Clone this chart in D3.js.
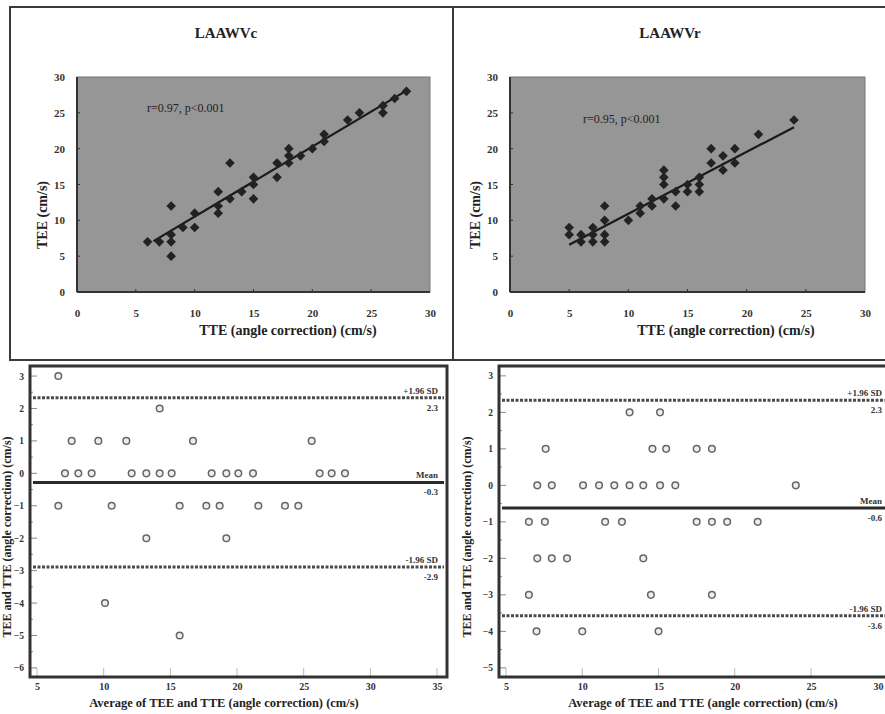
<!DOCTYPE html>
<html><head><meta charset="utf-8">
<script src="https://cdn.jsdelivr.net/npm/d3@7"></script>
<style>
body{margin:0;background:#fff;}
text{font-family:"Liberation Serif","DejaVu Serif",serif;}
</style></head>
<body>
<svg id="c" width="885" height="714"></svg>
<script>
// ---------- DATA ----------
// Top-left scatter: LAAWVc  [TTE, TEE]
const scatterC_x = [6,7,8,8,8,8,9,10,10,12,12,12,13,13,14,15,15,15,17,17,18,18,18,19,20,21,21,23,24,26,26,27,28];
const scatterC_y = [7,7,12,8,7,5,9,11,9,12,14,11,18,13,14,16,15,13,18,16,20,19,18,19,20,21,22,24,25,25,26,27,28];
const fitC = [[6.5,7.1],[28,28.1]];
const titleC = "LAAWVc";
const annC = "r=0.97, p<0.001";

// Top-right scatter: LAAWVr
const scatterR_x = [5,5,6,6,7,7,7,8,8,8,8,10,11,11,12,12,13,13,13,13,14,14,15,15,16,16,16,17,17,18,18,19,19,21,24];
const scatterR_y = [9,8,8,7,9,8,7,12,10,8,7,10,11,12,12,13,13,15,16,17,14,12,14,15,16,15,14,20,18,19,17,20,18,22,24];
const fitR = [[5,6.6],[24,23]];
const titleR = "LAAWVr";
const annR = "r=0.95, p<0.001";

const topTicks = [0,5,10,15,20,25,30];
const topXTitle = "TTE (angle correction) (cm/s)";
const topYTitle = "TEE (cm/s)";

// Bottom-left Bland-Altman (LAAWVc)
const baC_x = [6.6,14.2,7.6,9.6,11.7,16.7,25.6,7.1,8.1,9.1,12.1,13.2,14.2,15.1,18.1,19.2,20.1,21.2,26.2,27.1,28.1,6.6,10.6,15.7,17.7,18.7,21.6,23.6,24.6,13.2,19.2,10.1,15.7];
const baC_y = [3,2,1,1,1,1,1,0,0,0,0,0,0,0,0,0,0,0,0,0,0,-1,-1,-1,-1,-1,-1,-1,-1,-2,-2,-4,-5];
const baC_lines = [2.33,-0.28,-2.89];
const baC_top = ["+1.96 SD","Mean","-1.96 SD"];
const baC_vals = ["2.3","-0.3","-2.9"];
const baC_xTicks = [5,10,15,20,25,30,35];
const baC_yTicks = [3,2,1,0,-1,-2,-3,-4,-5,-6];

// Bottom-right Bland-Altman (LAAWVr)
const baR_x = [13.1,15.1,7.6,14.6,15.5,17.5,18.5,7.05,8.0,10.05,11.1,12.1,13.1,14.0,15.1,16.1,24.0,6.5,7.55,11.5,12.6,17.5,18.5,19.5,21.5,7.05,8.0,9.0,14.0,6.5,14.5,18.5,7.0,10.0,15.0];
const baR_y = [2,2,1,1,1,1,1,0,0,0,0,0,0,0,0,0,0,-1,-1,-1,-1,-1,-1,-1,-1,-2,-2,-2,-2,-3,-3,-3,-4,-4,-4];
const baR_lines = [2.33,-0.62,-3.57];
const baR_top = ["+1.96 SD","Mean","-1.96 SD"];
const baR_vals = ["2.3","-0.6","-3.6"];
const baR_xTicks = [5,10,15,20,25,30];
const baR_yTicks = [3,2,1,0,-1,-2,-3,-4,-5];

const botXTitle = "Average of TEE and TTE (angle correction) (cm/s)";
const botYTitleC = "TEE and TTE (angle correction) (cm/s)";
const botYTitleR = "TEE and TTE  (angle correction) (cm/s)";

// ---------- DRAW ----------
const W = 885;
const svg = d3.select("#c");
svg.append("rect").attr("width",W).attr("height",714).attr("fill","#fff");

// panel frames (top)
svg.append("rect").attr("x",10).attr("y",7).attr("width",443).attr("height",353)
  .attr("fill","none").attr("stroke","#3a3a3a").attr("stroke-width",2);
svg.append("rect").attr("x",453).attr("y",7).attr("width",445).attr("height",353)
  .attr("fill","none").attr("stroke","#3a3a3a").attr("stroke-width",2);

function scatterPanel(cfg){
  const x = d3.scaleLinear().domain([0,30]).range(cfg.xr);
  const y = d3.scaleLinear().domain([0,30]).range([292,77]);
  const g = svg.append("g");
  g.append("rect").attr("x",x(0)).attr("y",y(30)).attr("width",x(30)-x(0)).attr("height",y(0)-y(30))
    .attr("fill","#969696").attr("stroke","#777").attr("stroke-width",1);
  g.append("line").attr("x1",x(0)).attr("x2",x(0)).attr("y1",y(0)).attr("y2",y(30)).attr("stroke","#333").attr("stroke-width",2);
  g.append("line").attr("x1",x(0)).attr("x2",x(30)).attr("y1",y(0)).attr("y2",y(0)).attr("stroke","#333").attr("stroke-width",2);
  const ax = d3.axisBottom(x).tickValues(topTicks).tickSize(0).tickPadding(0);
  const xa = g.append("g").attr("transform",`translate(0,${y(0)+25})`).call(ax);
  xa.select(".domain").remove();
  xa.selectAll("text").attr("font-size",11).attr("font-weight","bold").attr("fill","#333").attr("dy",0);
  const ay = d3.axisLeft(y).tickValues(topTicks).tickSize(0).tickPadding(0);
  const ya = g.append("g").attr("transform",`translate(${x(0)-12},0)`).call(ay);
  ya.select(".domain").remove();
  ya.selectAll("text").attr("font-size",11).attr("font-weight","bold").attr("fill","#333");
  g.selectAll(".xt").data(topTicks.slice(1,-1)).join("line").attr("x1",d=>x(d)).attr("x2",d=>x(d))
    .attr("y1",y(0)).attr("y2",y(0)-3).attr("stroke","#333");
  g.selectAll(".yt").data(topTicks.slice(1,-1)).join("line").attr("x1",x(0)).attr("x2",x(0)+3)
    .attr("y1",d=>y(d)).attr("y2",d=>y(d)).attr("stroke","#333");
  g.append("path").attr("d",d3.line().x(d=>x(d[0])).y(d=>y(d[1]))(cfg.fit))
    .attr("stroke","#1a1a1a").attr("stroke-width",2.2).attr("fill","none");
  const sym = d3.symbol(d3.symbolSquare,46);
  g.selectAll(".pt").data(cfg.xs.map((v,i)=>[v,cfg.ys[i]])).join("path")
    .attr("d",sym).attr("transform",d=>`translate(${x(d[0])},${y(d[1])}) rotate(45)`)
    .attr("fill","#222");
  svg.append("text").attr("x",cfg.tx).attr("y",38).attr("text-anchor","middle")
    .attr("font-size",15).attr("font-weight","bold").attr("fill","#222").text(cfg.title);
  svg.append("text").attr("x",cfg.ax).attr("y",cfg.ay).attr("font-size",12).attr("fill","#222").text(cfg.ann);
  svg.append("text").attr("x",cfg.xtx).attr("y",335).attr("text-anchor","middle")
    .attr("font-size",14).attr("font-weight","bold").attr("fill","#222").text(topXTitle);
  svg.append("text").attr("transform",`translate(${cfg.ytx},215) rotate(-90)`).attr("text-anchor","middle")
    .attr("font-size",14).attr("font-weight","bold").attr("fill","#222").text(topYTitle);
}
scatterPanel({xr:[77,430], xs:scatterC_x, ys:scatterC_y, fit:fitC, title:titleC, tx:226, ann:annC, ax:147, ay:112, xtx:288, ytx:47});
scatterPanel({xr:[510,865], xs:scatterR_x, ys:scatterR_y, fit:fitR, title:titleR, tx:670, ann:annR, ax:583, ay:123, xtx:726, ytx:480});

function baPanel(cfg){
  const x = d3.scaleLinear().domain(cfg.xd).range(cfg.xr);
  const y = d3.scaleLinear().domain(cfg.yd).range([366,677]);
  const g = svg.append("g");
  const [x0,x1] = cfg.xr;
  const labelX = Math.min(x1-9, W-3);
  g.selectAll(".xt").data(cfg.xTicks).join("line").attr("x1",d=>x(d)).attr("x2",d=>x(d))
    .attr("y1",677).attr("y2",668).attr("stroke","#bbb").attr("stroke-width",1);
  g.selectAll(".yt").data(cfg.yTicks).join("line").attr("x1",x0).attr("x2",x0+7)
    .attr("y1",d=>y(d)).attr("y2",d=>y(d)).attr("stroke","#888").attr("stroke-width",1);
  const minor = d3.range(cfg.yTicks[cfg.yTicks.length-1]+0.5, cfg.yTicks[0], 1);
  g.selectAll(".ym").data(minor).join("line").attr("x1",x0).attr("x2",x0+3)
    .attr("y1",d=>y(d)).attr("y2",d=>y(d)).attr("stroke","#888").attr("stroke-width",1);
  const ay = d3.axisLeft(y).tickValues(cfg.yTicks).tickSize(0).tickPadding(0);
  const ya = g.append("g").attr("transform",`translate(${x0-6},0)`).call(ay);
  ya.select(".domain").remove();
  ya.selectAll("text").attr("font-size",9.5).attr("font-weight","bold").attr("fill","#333");
  const ax = d3.axisBottom(x).tickValues(cfg.xTicks).tickSize(0).tickPadding(0);
  const xa = g.append("g").attr("transform",`translate(0,683)`).call(ax);
  xa.select(".domain").remove();
  xa.selectAll("text").attr("font-size",10).attr("font-weight","bold").attr("fill","#333");
  // keep the last tick label inside the picture
  xa.selectAll(".tick").each(function(d){
    if(x(d)+7 > W){ d3.select(this).select("text").attr("text-anchor","end").attr("x",W-2-x(d)); }
  });
  cfg.lines.forEach((v,i)=>{
    const ln = g.append("line").attr("x1",x0+3).attr("x2",x1-3).attr("y1",y(v)).attr("y2",y(v));
    if(i===1) ln.attr("stroke","#2a2a2a").attr("stroke-width",3);
    else ln.attr("stroke","#4a4a4a").attr("stroke-width",3).attr("stroke-dasharray","3,1.5");
    g.append("text").attr("x",labelX).attr("y",y(v)-4).attr("text-anchor","end")
      .attr("font-size",9).attr("font-weight","bold").attr("fill","#333").text(cfg.top[i]);
    g.append("text").attr("x",labelX).attr("y",y(v)+13).attr("text-anchor","end")
      .attr("font-size",9).attr("font-weight","bold").attr("fill","#333").text(cfg.vals[i]);
  });
  g.selectAll(".pt").data(cfg.xs.map((v,i)=>[v,cfg.ys[i]])).join("circle")
    .attr("cx",d=>x(d[0])).attr("cy",d=>y(d[1])).attr("r",3.3)
    .attr("fill","#eee").attr("stroke","#666").attr("stroke-width",1.5);
  g.append("rect").attr("x",x0).attr("y",366).attr("width",x1-x0).attr("height",311)
    .attr("fill","none").attr("stroke","#333").attr("stroke-width",3);
  svg.append("text").attr("x",cfg.xtx).attr("y",707).attr("text-anchor","middle")
    .attr("font-size",12.5).attr("font-weight","bold").attr("fill","#222").text(botXTitle);
  svg.append("text").attr("transform",`translate(${cfg.ytx},537) rotate(-90)`).attr("text-anchor","middle")
    .attr("font-size",12).attr("font-weight","bold").attr("fill","#222").text(cfg.ytitle);
}
baPanel({xd:[4.475,35.75], xr:[30,447], yd:[3.31,-6.28], xs:baC_x, ys:baC_y, lines:baC_lines, top:baC_top, vals:baC_vals,
  xTicks:baC_xTicks, yTicks:baC_yTicks, xtx:224, ytx:11, ytitle:botYTitleC});
baPanel({xd:[4.54,30.7], xr:[499,898], yd:[3.27,-5.25], xs:baR_x, ys:baR_y, lines:baR_lines, top:baR_top, vals:baR_vals,
  xTicks:baR_xTicks, yTicks:baR_yTicks, xtx:703, ytx:471, ytitle:botYTitleR});
</script>
</body></html>
